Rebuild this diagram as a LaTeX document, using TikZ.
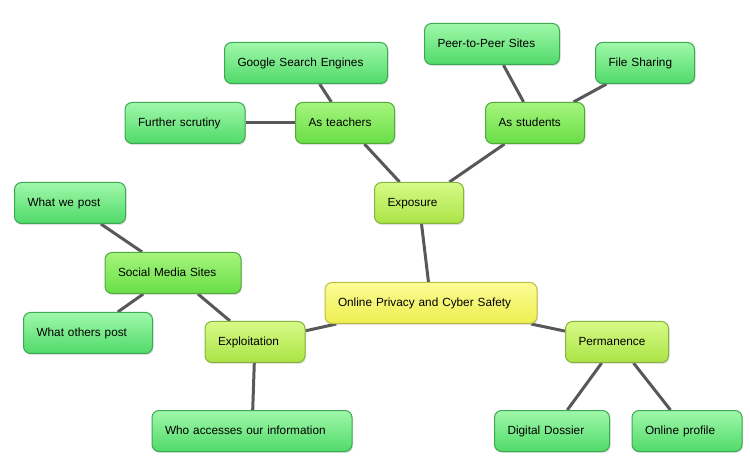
\documentclass[tikz,border=0pt]{standalone}
\usepackage{fontspec}
\setmainfont{Liberation Sans}
\usetikzlibrary{backgrounds,shadows}

\definecolor{leaftop}{RGB}{160,248,170}
\definecolor{leafbot}{RGB}{80,218,105}
\definecolor{leafline}{RGB}{60,168,82}
\definecolor{midtop}{RGB}{165,245,125}
\definecolor{midbot}{RGB}{105,222,70}
\definecolor{midline}{RGB}{80,170,60}
\definecolor{subtop}{RGB}{215,250,135}
\definecolor{subbot}{RGB}{170,228,70}
\definecolor{subline}{RGB}{135,180,60}
\definecolor{roottop}{RGB}{252,252,150}
\definecolor{rootbot}{RGB}{238,238,80}
\definecolor{rootline}{RGB}{190,190,70}
\definecolor{linkgray}{RGB}{88,88,88}

\tikzset{
  box/.style={rounded corners=7pt, line width=1pt, minimum height=41pt,
    inner xsep=13pt, inner ysep=0pt, align=left, font=\fontsize{11.8}{14}\selectfont,
    text height=9pt, text depth=2.5pt,
    drop shadow={opacity=0.25, shadow xshift=1pt, shadow yshift=-1.5pt}},
  root/.style={box, draw=rootline, top color=roottop, bottom color=rootbot},
  sub/.style={box, draw=subline, top color=subtop, bottom color=subbot},
  mid/.style={box, draw=midline, top color=midtop, bottom color=midbot},
  leaf/.style={box, draw=leafline, top color=leaftop, bottom color=leafbot},
  link/.style={draw=linkgray, line width=3pt}
}

\begin{document}
\begin{tikzpicture}[x=1pt,y=-1pt]
   \useasboundingbox (0,0) rectangle (750,470);

   % 中心
   \node[root, text width=186pt] (privacy) at (431,303) {Online Privacy and Cyber Safety};

   % Exposure
   \node[sub, text width=63pt] (exposure) at (419,203) {Exposure};
   \node[mid, text width=73pt] (teachers) at (345,123) {As teachers};
   \node[mid, text width=73pt] (students) at (535,123) {As students};
   \node[leaf, text width=137pt] (google) at (306,63) {Google Search Engines};
   \node[leaf, text width=94pt] (further) at (185,123) {Further scrutiny};
   \node[leaf, text width=109pt] (peer) at (492,44) {Peer-to-Peer Sites};
   \node[leaf, text width=73pt] (sharing) at (645,63) {File Sharing};

   % Exploitation
   \node[sub, text width=74pt] (exploit) at (255,342) {Exploitation};
   \node[mid, text width=110pt] (social) at (173,273) {Social Media Sites};
   \node[leaf, text width=85pt] (wepost) at (70,203) {What we post};
   \node[leaf, text width=103pt] (otherspost) at (88,333) {What others post};
   \node[leaf, text width=174pt] (who) at (252,431) {Who accesses our information};

   % Permanence
   \node[sub, text width=77pt] (perm) at (617,342) {Permanence};
   \node[leaf, text width=89pt] (dossier) at (552,431) {Digital Dossier};
   \node[leaf, text width=84pt] (profile) at (687,431) {Online profile};

   % 接続線
   \begin{scope}[on background layer]
   \draw[link] (privacy) -- (exposure);
   \draw[link] (exposure) -- (teachers);
   \draw[link] (exposure) -- (students);
   \draw[link] (teachers) -- (google);
   \draw[link] (teachers) -- (further);
   \draw[link] (students) -- (peer);
   \draw[link] (students) -- (sharing);
   \draw[link] (privacy) -- (exploit);
   \draw[link] (exploit) -- (social);
   \draw[link] (social) -- (wepost);
   \draw[link] (social) -- (otherspost);
   \draw[link] (exploit) -- (who);
   \draw[link] (privacy) -- (perm);
   \draw[link] (perm) -- (dossier);
   \draw[link] (perm) -- (profile);
   \end{scope}
\end{tikzpicture}
\end{document}
